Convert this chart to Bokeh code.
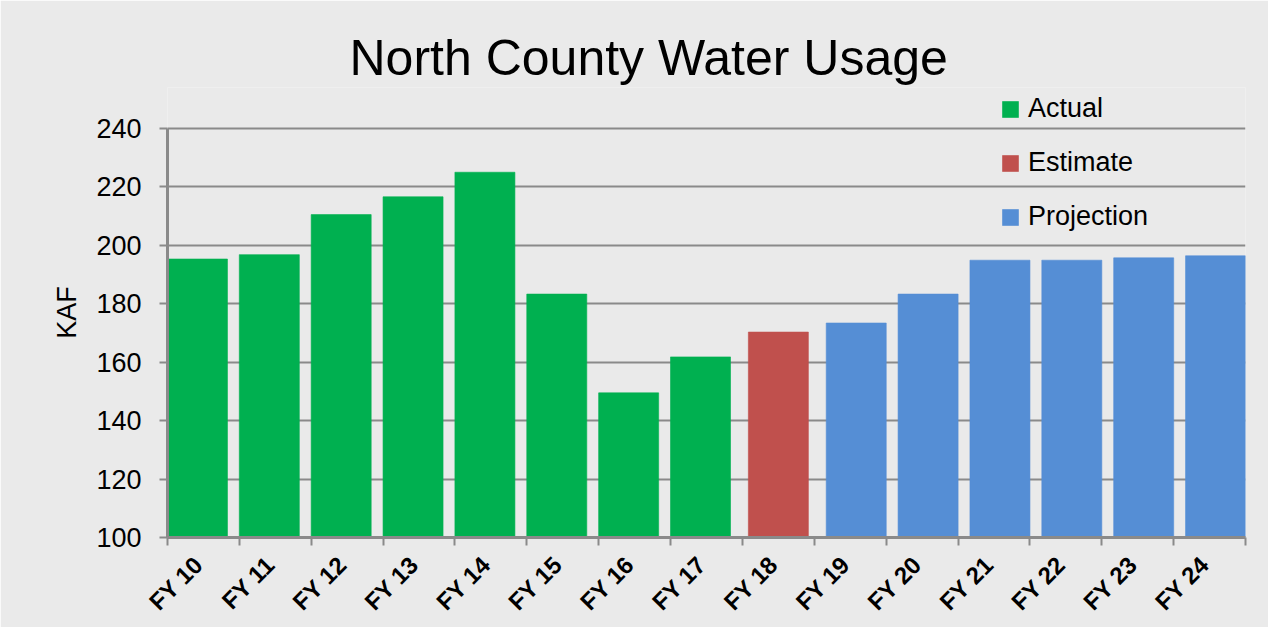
import numpy as np
from bokeh.plotting import figure
from bokeh.models import ColumnDataSource, Range1d, FixedTicker, Legend, LegendItem
from bokeh.transform import dodge
from bokeh.embed import file_html
from bokeh.resources import INLINE

# ---- data ----
categories = ["FY 10", "FY 11", "FY 12", "FY 13", "FY 14", "FY 15", "FY 16", "FY 17",
              "FY 18", "FY 19", "FY 20", "FY 21", "FY 22", "FY 23", "FY 24"]
usage = [195.3, 196.8, 210.5, 216.6, 225.0, 183.3, 149.5, 161.8,
         170.3, 173.4, 183.3, 194.9, 194.9, 195.7, 196.4]
series = ["Actual"] * 8 + ["Estimate"] + ["Projection"] * 6
series_names = ["Actual", "Estimate", "Projection"]
series_colors = ["#00B050", "#C0504D", "#558ED5"]
y_ticks = [100, 120, 140, 160, 180, 200, 220, 240]

BG = "#EAEAEA"
GRID = "#8A8A8A"
FONT = "Liberation Sans"

W, H = 1268, 627
p = figure(width=W, height=H, output_backend="svg", toolbar_location=None,
           x_range=Range1d(0, len(categories)), y_range=Range1d(100, 254),
           min_border_left=167, min_border_right=W - 1245,
           min_border_top=87, min_border_bottom=H - 537)
p.background_fill_color = BG
p.border_fill_color = BG
p.outline_line_color = None

# title
p.title.text = "North County Water Usage"
p.title.text_font = FONT
p.title.text_font_size = "50px"
p.title.text_font_style = "normal"
p.title.text_color = "#000000"
p.title.align = "left"
p.title.offset = 182
p.title.standoff = 4

centers = np.arange(len(categories)) + 0.5
bar_w = 0.835
offsets = {"Actual": -1 / 12, "Estimate": 0.0, "Projection": 1 / 12}

renderers = {}
for name, col in zip(series_names, series_colors):
    idx = [i for i, s in enumerate(series) if s == name]
    src = ColumnDataSource(dict(x=[centers[i] for i in idx],
                                top=[usage[i] for i in idx],
                                cat=[categories[i] for i in idx]))
    r = p.vbar(x=dodge("x", offsets[name], range=p.x_range), top="top", bottom=100,
               width=bar_w, source=src, fill_color=col, line_color=col,
               line_alpha=0.6, line_width=1)
    renderers[name] = r

# grid
p.xgrid.grid_line_color = None
p.ygrid.ticker = FixedTicker(ticks=y_ticks)
p.ygrid.grid_line_color = GRID
p.ygrid.grid_line_width = 2

# y axis
ya = p.yaxis[0]
ya.ticker = FixedTicker(ticks=y_ticks)
ya.bounds = (100, 240)
ya.axis_line_color = GRID
ya.axis_line_width = 3
ya.major_tick_line_color = GRID
ya.major_tick_line_width = 2
ya.major_tick_out = 8
ya.major_tick_in = 0
ya.minor_tick_line_color = None
ya.major_label_text_font = FONT
ya.major_label_text_font_size = "27px"
ya.major_label_text_color = "#000000"
ya.major_label_standoff = 18
ya.axis_label = "KAF"
ya.axis_label_text_font = FONT
ya.axis_label_text_font_size = "27px"
ya.axis_label_text_font_style = "normal"
ya.axis_label_text_color = "#000000"
ya.axis_label_standoff = 11

# x axis (labels slightly left of the category centre, ticks at boundaries)
label_pos = [float(c) - 0.07 for c in centers]
xa = p.xaxis[0]
xa.ticker = FixedTicker(ticks=label_pos, minor_ticks=list(range(len(categories) + 1)))
xa.major_label_overrides = {lp: lab for lp, lab in zip(label_pos, categories)}
xa.axis_line_color = GRID
xa.axis_line_width = 3
xa.major_tick_line_color = None
xa.major_tick_out = 6
xa.minor_tick_line_color = GRID
xa.minor_tick_line_width = 2
xa.minor_tick_out = 8
xa.minor_tick_in = 0
xa.major_label_orientation = np.pi / 4
xa.major_label_text_font = FONT
xa.major_label_text_font_size = "24px"
xa.major_label_text_font_style = "bold"
xa.major_label_text_color = "#000000"
xa.major_label_standoff = 15

# legend
legend = Legend(items=[LegendItem(label=n, renderers=[renderers[n]]) for n in series_names],
                location=(833, 305), orientation="vertical",
                glyph_width=20, glyph_height=20, label_height=31, spacing=23,
                label_standoff=8, padding=0, margin=0,
                label_text_font=FONT, label_text_font_size="27px",
                label_text_color="#000000",
                background_fill_alpha=0, border_line_color=None)
p.add_layout(legend, "center")

open("out.html", "w").write(file_html(p, INLINE))
